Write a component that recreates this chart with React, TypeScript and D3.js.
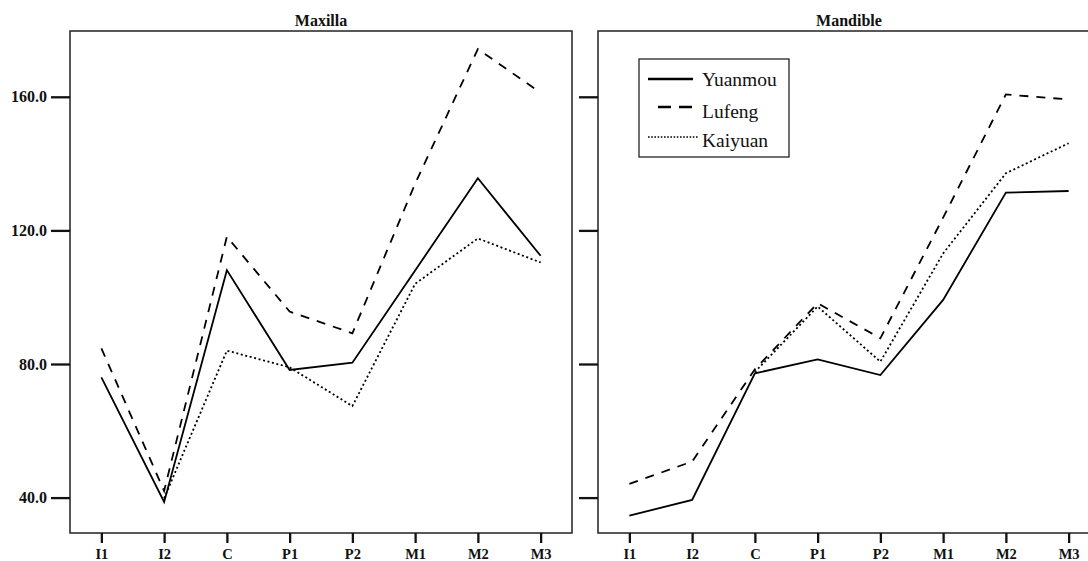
import * as d3 from "d3";
import { useRef, useEffect } from "react";

const width = 1088;
const height = 561;
const plotTop = 31;
const plotBottom = 533;
const leftPanel = [70, 572];
const rightPanel = [598, 1100];

const teeth = ["I1", "I2", "C", "P1", "P2", "M1", "M2", "M3"];
const yTicks = [40, 80, 120, 160];

// Maxilla
const maxYuanmou = [76, 38.7, 108.1, 78.2, 80.4, 108, 135.6, 112.4];
const maxLufeng = [84.7, 42, 118.1, 95.7, 89.2, 134, 174.3, 161.2];
const maxKaiyuan = [null, 39.8, 84, 79, 67.4, 104, 117.6, 110.4];

// Mandible
const manYuanmou = [34.6, 39.3, 77.2, 81.4, 76.7, 99.2, 131.3, 131.8];
const manLufeng = [44.1, 50.8, 78.4, 98.2, 87.7, 123.8, 160.7, 159.2];
const manKaiyuan = [null, null, 77.6, 97.2, 80.7, 113.1, 137.1, 146.1];

const seriesNames = ["Yuanmou", "Lufeng", "Kaiyuan"];
const dashes = ["none", "9,8", "2,2.6"];
const legendDashes = ["none", "13,8", "1.6,1.6"];

const serifFont = "Liberation Serif, Times New Roman, DejaVu Serif, Noto Serif, serif";

const y = d3.scaleLinear().domain([29.4, 179.7]).range([plotBottom, plotTop]);

interface PanelProps {
  title: string;
  range: number[];
  series: (number | null)[][];
  labels: boolean;
}

const Panel = ({ title, range, series, labels }: PanelProps) => {
  const gx = useRef<SVGGElement>(null);
  const gy = useRef<SVGGElement>(null);

  const x = d3.scalePoint<string>().domain(teeth).range(range as [number, number]).padding(0.5);

  useEffect(() => {
    if (gx.current) {
      const g = d3.select(gx.current);
      g.call(d3.axisBottom(x).tickSize(10).tickPadding(6).tickSizeOuter(0));
      g.select(".domain").remove();
      g.attr("font-family", null).attr("font-size", null);
      g.selectAll(".tick line").attr("stroke", "#111").attr("stroke-width", 2.3);
      g.selectAll(".tick text").attr("fill", "#111");
    }
    if (gy.current) {
      const g = d3.select(gy.current);
      g.call(
        d3
          .axisLeft(y)
          .tickValues(yTicks)
          .tickSize(19)
          .tickPadding(4)
          .tickFormat((d) => (labels ? d3.format(".1f")(d as number) : ""))
      );
      g.select(".domain").remove();
      g.attr("font-family", null).attr("font-size", null);
      g.selectAll(".tick line").attr("stroke", "#111").attr("stroke-width", 2.3);
      g.selectAll(".tick text").attr("fill", "#111");
    }
    return () => {
      if (gx.current) d3.select(gx.current).selectAll("*").remove();
      if (gy.current) d3.select(gy.current).selectAll("*").remove();
    };
  }, [range, labels]);

  const lineBuilder = d3
    .line<number | null>()
    .defined((d) => d !== null)
    .x((_, i) => x(teeth[i]) as number)
    .y((d) => y(d as number));

  return (
    <g>
      <text
        x={(range[0] + range[1]) / 2}
        y={26}
        textAnchor="middle"
        style={{ fontFamily: serifFont, fontWeight: "bold", fontSize: 16 }}
        fill="#111"
      >
        {title}
      </text>
      {series.map((s, i) => (
        <path
          key={i}
          d={lineBuilder(s) as string}
          fill="none"
          stroke="#000"
          strokeWidth={1.8}
          strokeDasharray={dashes[i]}
        />
      ))}
      <rect
        x={range[0]}
        y={plotTop}
        width={range[1] - range[0]}
        height={plotBottom - plotTop}
        fill="none"
        stroke="#222"
        strokeWidth={1.5}
      />
      <g
        ref={gx}
        transform={`translate(0, ${plotBottom})`}
        style={{ fontFamily: serifFont, fontWeight: "bold", fontSize: 14.5 }}
      />
      <g
        ref={gy}
        transform={`translate(${range[0]}, 0)`}
        style={{ fontFamily: serifFont, fontWeight: "bold", fontSize: 16 }}
      />
    </g>
  );
};

const legendX = 639;
const legendY = 59;
const legendRows = [79, 107, 137];
const legendBaselines = [86, 118, 147];

const App = () => {
  return (
    <svg
      width={width}
      height={height}
      viewBox={`0 0 ${width} ${height}`}
      style={{ position: "absolute", left: 0, top: 0, background: "#fff" }}
    >
      <Panel title="Maxilla" range={leftPanel} series={[maxYuanmou, maxLufeng, maxKaiyuan]} labels={true} />
      <Panel title="Mandible" range={rightPanel} series={[manYuanmou, manLufeng, manKaiyuan]} labels={false} />

      <g>
        <rect x={legendX} y={legendY} width={150} height={98} fill="#fff" stroke="#111" strokeWidth={1.2} />
        {seriesNames.map((name, i) => (
          <g key={name}>
            <line
              x1={i === 1 ? 658 : 648}
              x2={i === 2 ? 698 : 693}
              y1={legendRows[i]}
              y2={legendRows[i]}
              stroke="#000"
              strokeWidth={i === 2 ? 1.6 : 2.4}
              strokeDasharray={legendDashes[i]}
            />
            <text x={702} y={legendBaselines[i]} style={{ fontFamily: serifFont, fontSize: 19.5 }} fill="#111">
              {name}
            </text>
          </g>
        ))}
      </g>
    </svg>
  );
};

export default App;
